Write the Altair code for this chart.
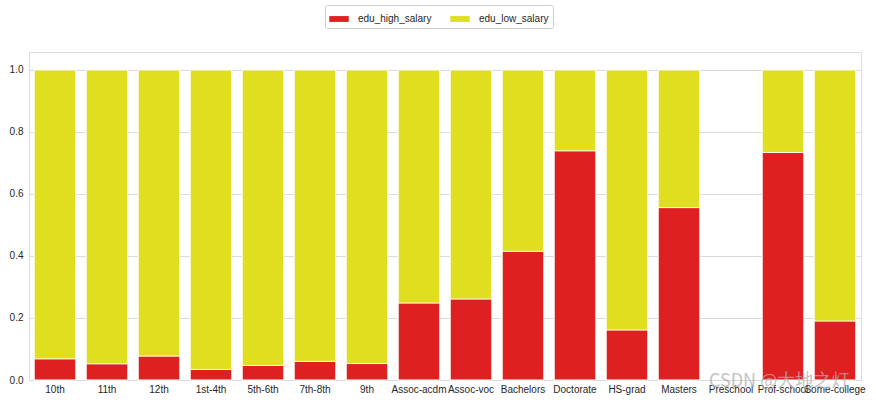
import altair as alt
import pandas as pd

categories = ["10th", "11th", "12th", "1st-4th", "5th-6th", "7th-8th", "9th",
              "Assoc-acdm", "Assoc-voc", "Bachelors", "Doctorate", "HS-grad",
              "Masters", "Preschool", "Prof-school", "Some-college"]
edu_high_salary = [0.068, 0.052, 0.077, 0.034, 0.047, 0.060, 0.053,
                   0.248, 0.261, 0.415, 0.739, 0.161, 0.556, None, 0.734, 0.190]
edu_low_salary = [1.0, 1.0, 1.0, 1.0, 1.0, 1.0, 1.0,
                  1.0, 1.0, 1.0, 1.0, 1.0, 1.0, None, 1.0, 1.0]
series = ["edu_high_salary", "edu_low_salary"]
colors = ["#df2020", "#dfdf20"]

rows = []
for c, v in zip(categories, edu_low_salary):
    rows.append({"edu": c, "series": "edu_low_salary", "value": v, "ord": 0})
for c, v in zip(categories, edu_high_salary):
    rows.append({"edu": c, "series": "edu_high_salary", "value": v, "ord": 1})
df = pd.DataFrame(rows)

font = "Liberation Sans"

bars = alt.Chart(df).mark_bar(stroke="white", strokeWidth=1).encode(
    x=alt.X("edu:N", sort=categories, title=None,
            scale=alt.Scale(paddingInner=0.2, paddingOuter=0.1),
            axis=alt.Axis(labelAngle=0, labelOverlap=False, labelLimit=0,
                          ticks=False, domain=False, labelPadding=4,
                          labelFontSize=10, labelColor="#262626", labelFont=font)),
    y=alt.Y("value:Q", stack=None, title=None,
            scale=alt.Scale(domain=[0, 1.058], nice=False),
            axis=alt.Axis(values=[0, 0.2, 0.4, 0.6, 0.8, 1.0], format=".1f",
                          ticks=False, domain=False, labelPadding=6,
                          gridColor="#d9d9d9", gridWidth=1,
                          labelFontSize=10, labelColor="#262626", labelFont=font)),
    color=alt.Color("series:N", scale=alt.Scale(domain=series, range=colors),
                    legend=alt.Legend(title=None, orient="none", direction="horizontal",
                                      legendX=296, legendY=-47,
                                      symbolType="M-1,-0.3L1,-0.3L1,0.3L-1,0.3Z",
                                      symbolSize=380, symbolStrokeWidth=0,
                                      labelOffset=9,
                                      labelFontSize=10, labelFont=font, labelColor="#262626",
                                      columnPadding=18, padding=4,
                                      strokeColor="#cccccc", cornerRadius=2,
                                      fillColor="white")),
    order=alt.Order("ord:Q"),
)

watermark = alt.Chart(pd.DataFrame({"t": ["CSDN @大地之灯"]})).mark_text(
    align="left", baseline="middle", fontSize=18, color="#b0b0b0", opacity=0.75,
    font="Noto Sans CJK SC"
).encode(text="t:N", x=alt.value(680), y=alt.value(330))

chart = alt.layer(bars, watermark).properties(
    width=832, height=328,
    autosize=alt.AutoSizeParams(type="none"),
    padding={"left": 29, "top": 52, "right": 15, "bottom": 23},
).configure_view(stroke="#cccccc", strokeWidth=1).configure(background="white")

chart.save("out.html", embed_options={"renderer": "svg", "actions": False})
